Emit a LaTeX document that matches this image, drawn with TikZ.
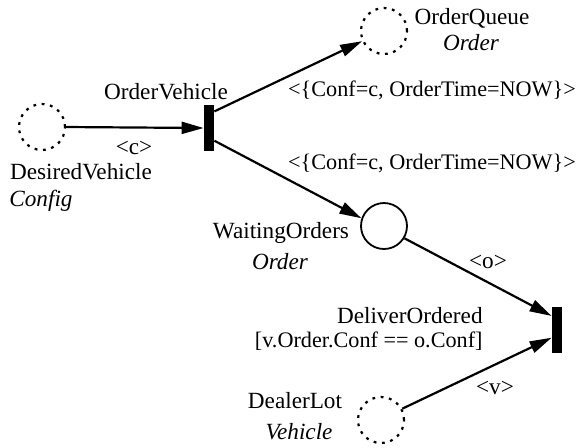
\documentclass[tikz,border=0pt]{standalone}
\usepackage{fontspec}
\setmainfont{Liberation Serif}
\usetikzlibrary{arrows.meta}
\begin{document}
\begin{tikzpicture}[x=0.5pt,y=-0.5pt,
  every node/.style={font=\fontsize{11.6}{13}\selectfont, inner sep=0pt},
  place/.style={circle, draw, line width=0.9pt, minimum size=23pt},
  virtplace/.style={place, line width=1.1pt, dash pattern=on 1.4pt off 2.8pt},
  trans/.style={rectangle, fill=black, draw=none, minimum width=5pt, minimum height=23pt},
  arc/.style={line width=1.1pt, -{Triangle[length=11pt,width=6pt]}},
  tlabel/.style={font=\fontsize{11.6}{13}\selectfont\itshape},
  inscr/.style={font=\fontsize{11.1}{13}\selectfont}]
\useasboundingbox (0,0) rectangle (579,447);

% places and transitions
\node[virtplace] (dv) at (42,127) {};
\node[trans] (ov) at (209,128) {};
\node[virtplace] (oq) at (384,31) {};
\node[place] (wo) at (384,226) {};
\node[trans] (do) at (557,330) {};
\node[virtplace] (dl) at (381,420) {};

% names and types
\node (ovname) at (166,92) {OrderVehicle};
\node (dvname) at (81,172) {DesiredVehicle};
\node[tlabel] (dvtype) at (41,201) {Config};
\node (oqname) at (472,18) {OrderQueue};
\node[tlabel] (oqtype) at (471,43) {Order};
\node (woname) at (281,233) {WaitingOrders};
\node[tlabel] (wotype) at (280,262) {Order};
\node[anchor=east] (doname) at (483,316) {DeliverOrdered};
\node[inscr, anchor=east] (doguard) at (483,341) {[v.Order.Conf == o.Conf]};
\node (dlname) at (295,401) {DealerLot};
\node[tlabel] (dltype) at (299,432) {Vehicle};

% arcs
\draw[arc] (dv.east) -- (ov.west);
\draw[arc] (ov.72) -- (oq.205);
\draw[arc] (ov.-67) -- (wo.161);
\draw[arc] (wo.-31) -- (do.111);
\draw[arc] (dl.28) -- (do.-125);

% arc inscriptions
\node (ic) at (134,148) {<c>};
\node[inscr] (iq) at (432,90) {<\{Conf=c, OrderTime=NOW\}>};
\node[inscr] (iw) at (432,163) {<\{Conf=c, OrderTime=NOW\}>};
\node (io) at (488,262) {<o>};
\node (iv) at (495,388) {<v>};
\end{tikzpicture}
\end{document}
